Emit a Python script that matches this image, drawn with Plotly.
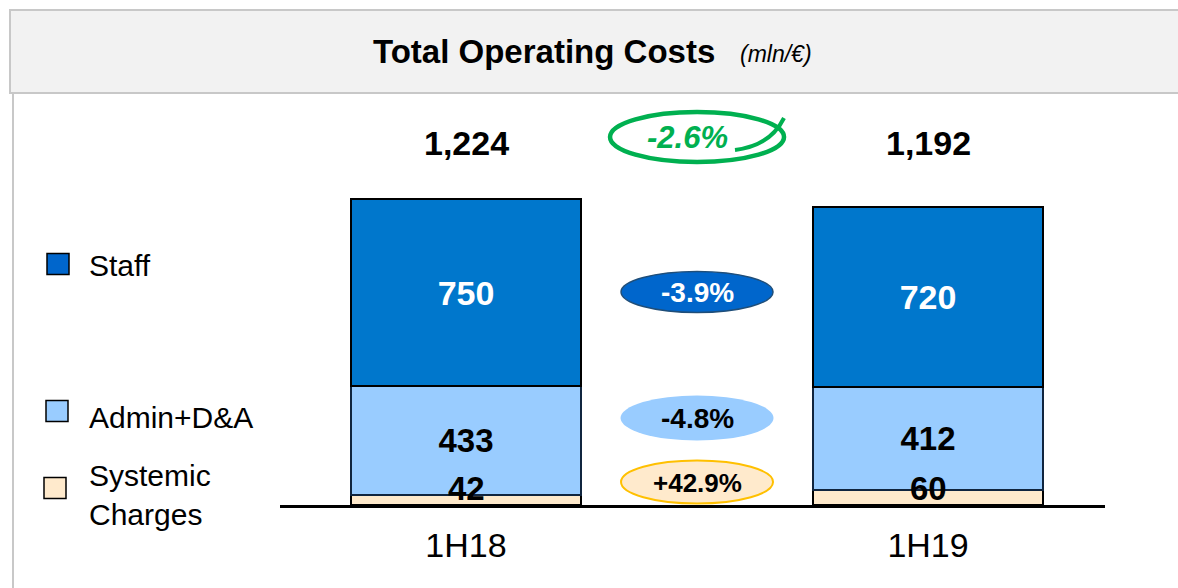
import plotly.graph_objects as go

# ---- data ----
periods = ["1H18", "1H19"]
staff = [750, 720]
admin = [433, 412]
systemic = [42, 60]
totals = [1224, 1192]
series_names = ["Staff", "Admin+D&A", "Systemic<br>Charges"]
change_labels = {"total": "-2.6%", "staff": "-3.9%", "admin": "-4.8%", "systemic": "+42.9%"}

# ---- styling ----
W, H = 1178, 588
FONT = "Liberation Sans, Arial, sans-serif"
C_STAFF = "#0077CC"
C_STAFF_DARK = "#0066CC"
C_ADMIN = "#99CCFF"
C_SYS = "#FFEACC"
C_GREEN = "#00B050"

PLOT_L, PLOT_R, PLOT_T, PLOT_B = 280, 1105, 105, 505


def px(x):
    return x / W


def py(y):
    return 1 - y / H


fig = go.Figure()
fig.add_trace(go.Bar(x=periods, y=systemic, name="Systemic Charges",
                     marker=dict(color=C_SYS, line=dict(color="#000000", width=2)),
                     width=0.498, showlegend=False, hoverinfo="y"))
fig.add_trace(go.Bar(x=periods, y=admin, name="Admin+D&A",
                     marker=dict(color=C_ADMIN, line=dict(color="#10253f", width=2)),
                     width=0.498, text=[str(v) for v in admin], textposition="inside", insidetextanchor="middle",
                     textangle=0, constraintext="none",
                     textfont=dict(family=FONT, size=33, color="#000000", weight="bold"), showlegend=False, hoverinfo="y"))
fig.add_trace(go.Bar(x=periods, y=staff, name="Staff",
                     marker=dict(color=C_STAFF, line=dict(color="#000000", width=2)),
                     width=0.498, text=[str(v) for v in staff], textposition="inside", insidetextanchor="middle",
                     textangle=0, constraintext="none",
                     textfont=dict(family=FONT, size=34, color="#FFFFFF", weight="bold"), showlegend=False, hoverinfo="y"))

shapes = []
annotations = []


def note(x, y, text, size, color="#000000", xref="paper", yref="paper", xanchor="center", yanchor="middle", **kw):
    d = dict(xref=xref, yref=yref, x=x, y=y, text=text, showarrow=False, xanchor=xanchor, yanchor=yanchor,
             font=dict(family=FONT, size=size, color=color))
    d.update(kw)
    annotations.append(d)


# header band
shapes.append(dict(type="rect", xref="paper", yref="paper", x0=px(10), x1=px(1190), y0=py(93), y1=py(10),
                   fillcolor="#F2F2F2", line=dict(color="#C8C8C8", width=2), layer="below"))
shapes.append(dict(type="line", xref="paper", yref="paper", x0=px(13), x1=px(13), y0=py(93), y1=py(600),
                   line=dict(color="#C8C8C8", width=2)))
note(px(544), py(52), "<b>Total Operating Costs</b>", 33)
note(px(776), py(54), "<i>(mln/€)</i>", 23)

# totals above bars
for p, t in zip(periods, totals):
    note(p, py(143), f"<b>{t:,}</b>", 34, xref="x")

# systemic labels (segment too thin to hold text)
for p, v in zip(periods, systemic):
    note(p, 0, f"<b>{v}</b>", 33, xref="x", yref="y", yanchor="bottom", yshift=-4)

# change ellipses between the bars
mid = 0.5


def ellipse(cy, w, h, fill, line_color, line_width):
    return dict(type="circle", xref="x", yref="paper", xsizemode="pixel", ysizemode="pixel",
                xanchor=mid, yanchor=py(cy), x0=-w / 2, x1=w / 2, y0=-h / 2, y1=h / 2,
                fillcolor=fill, line=dict(color=line_color, width=line_width))


shapes.append(ellipse(292, 152, 41, C_STAFF_DARK, "#1F4E79", 1.5))
shapes.append(ellipse(418, 153, 45, C_ADMIN, C_ADMIN, 0))
shapes.append(ellipse(482, 152, 43, C_SYS, "#FFC000", 2))
# hand-drawn style green ring
shapes.append(ellipse(137, 174, 50, "rgba(0,0,0,0)", C_GREEN, 4.5))
shapes.append(dict(type="path", xref="paper", yref="paper",
                   path=f"M {px(735)},{py(150)} Q {px(770)},{py(146)} {px(784)},{py(118)}",
                   line=dict(color=C_GREEN, width=4)))

note(mid, py(292), f"<b>{change_labels['staff']}</b>", 28, "#FFFFFF", xref="x")
note(mid, py(418), f"<b>{change_labels['admin']}</b>", 28, "#000000", xref="x")
note(mid, py(483), f"<b>{change_labels['systemic']}</b>", 26, "#000000", xref="x")
note(mid - 0.02, py(137), f"<b><i>{change_labels['total']}</i></b>", 31, C_GREEN, xref="x")

# manual legend
legend_items = [
    (series_names[0], C_STAFF_DARK, 47, 264, 266),
    (series_names[1], C_ADMIN, 46, 411, 417),
    (series_names[2], C_SYS, 44, 488, 495),
]
for name, col, x0, sq_cy, ty in legend_items:
    shapes.append(dict(type="rect", xref="paper", yref="paper", x0=px(x0), x1=px(x0 + 22),
                       y0=py(sq_cy + 10.5), y1=py(sq_cy - 10.5), fillcolor=col, line=dict(color="#000000", width=1.5)))
    note(px(87), py(ty), name, 30, xanchor="left", align="left")

fig.update_layout(
    width=W, height=H, autosize=False,
    margin=dict(l=0, r=0, t=0, b=0),
    paper_bgcolor="#FFFFFF", plot_bgcolor="rgba(0,0,0,0)",
    barmode="stack", bargap=0,
    shapes=shapes, annotations=annotations,
    font=dict(family=FONT, color="#000000"),
    xaxis=dict(type="category", domain=[px(PLOT_L), px(PLOT_R)], range=[-0.4026, 1.383],
               showline=True, linecolor="#000000", linewidth=3, showgrid=False, zeroline=False,
               ticks="", tickfont=dict(family=FONT, size=34, color="#000000"), ticklabelstandoff=8,
               fixedrange=True),
    yaxis=dict(domain=[py(PLOT_B), py(PLOT_T)], range=[0, 1600], visible=False, showgrid=False,
               zeroline=False, fixedrange=True),
)

fig.write_html("out.html", config={"displayModeBar": False},
               post_script="document.body.style.margin='0';document.body.style.overflow='hidden';")
